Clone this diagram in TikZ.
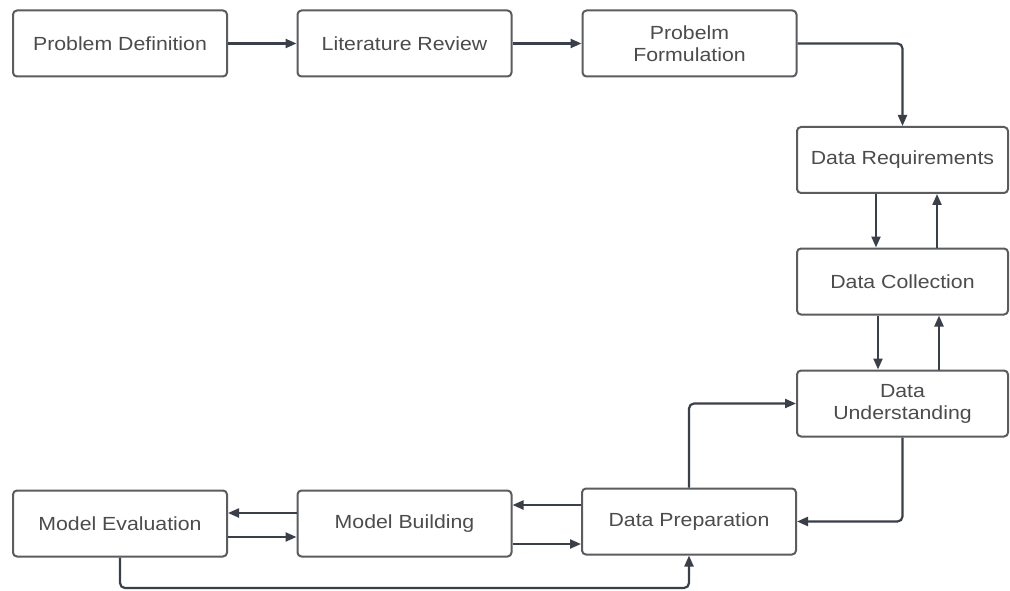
\documentclass[tikz,border=0pt]{standalone}
\usepackage{fontspec}
\setmainfont{Liberation Sans}[FakeStretch=1.12]
\usetikzlibrary{arrows.meta}
\definecolor{boxline}{HTML}{5A5C60}
\definecolor{txt}{HTML}{4C4C4C}
\definecolor{arr}{HTML}{3A4049}
\tikzset{
  box/.style={draw=boxline, line width=2pt, rounded corners=4pt, fill=white,
    minimum width=214pt, minimum height=66pt, inner sep=0pt, text=txt, align=center,
    font=\fontsize{19}{22}\selectfont},
  conn/.style={draw=arr, line width=2.2pt, rounded corners=5pt,
    -{Triangle[length=11pt,width=9pt]}},
}
\begin{document}
\begin{tikzpicture}[x=1pt,y=-1pt]
\useasboundingbox[fill=white] (0,0) rectangle (1010,591);
\node[box] (pd) at (120,43.5) {Problem Definition};
\node[box] (lr) at (404.5,43.5) {Literature Review};
\node[box] (pf) at (689.5,43.5) {Probelm\\Formulation};
\node[box, minimum width=211pt] (dr) at (902.5,160) {Data Requirements};
\node[box, minimum width=211pt] (dc) at (902.5,281.5) {Data Collection};
\node[box, minimum width=211pt] (du) at (902.5,403.5) {Data\\Understanding};
\node[box] (dp) at (689,521.5) {Data Preparation};
\node[box] (mb) at (404.5,523.5) {Model Building};
\node[box] (me) at (120,523.5) {Model Evaluation};
\coordinate (bot) at (120,588);
% top row
\draw[conn] (pd.east) -- (lr.west);
\draw[conn] (lr.east) -- (pf.west);
\draw[conn] (pf.east) -| (dr.north);
% right column
\draw[conn] ([xshift=-26.5pt]dr.south) -- ([xshift=-26.5pt]dc.north);
\draw[conn] ([xshift=34.5pt]dc.north) -- ([xshift=34.5pt]dr.south);
\draw[conn] ([xshift=-24.5pt]dc.south) -- ([xshift=-24.5pt]du.north);
\draw[conn] ([xshift=36.5pt]du.north) -- ([xshift=36.5pt]dc.south);
% data understanding <-> preparation
\draw[conn] (du.south) |- (dp.east);
\draw[conn] (dp.north) |- (du.west);
% bottom row
\draw[conn] ([yshift=16.5pt]dp.west) -- ([yshift=16.5pt]dp.west -| mb.east);
\draw[conn] ([yshift=-20.5pt]mb.east) -- ([yshift=-20.5pt]mb.east -| dp.west);
\draw[conn] ([yshift=10.5pt]mb.west) -- ([yshift=10.5pt]mb.west -| me.east);
\draw[conn] ([yshift=-13.5pt]me.east) -- ([yshift=-13.5pt]me.east -| mb.west);
\draw[conn] (me.south) -- (bot) -| (dp.south);
\end{tikzpicture}
\end{document}
